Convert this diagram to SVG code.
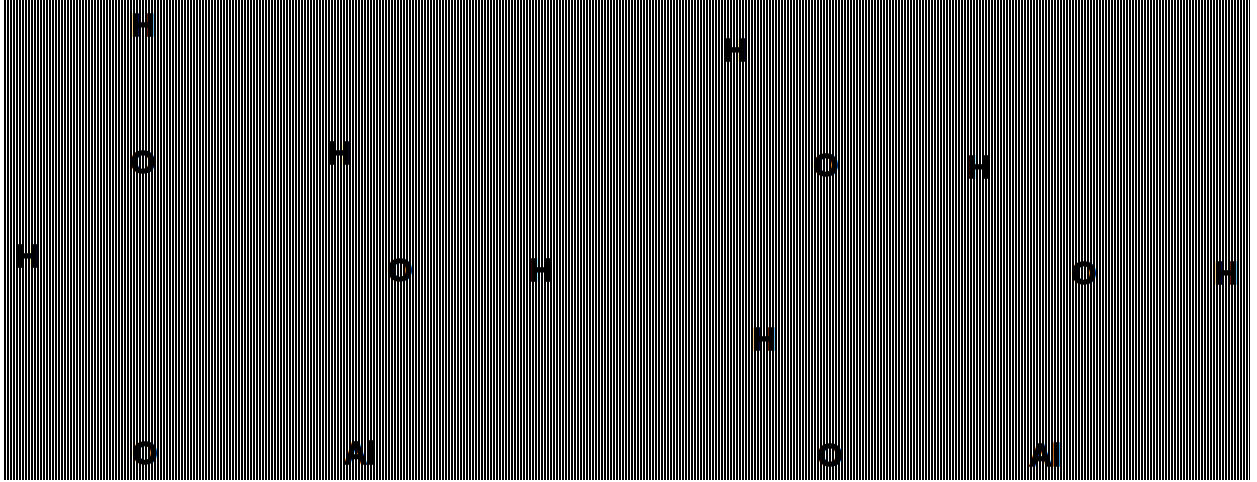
<svg xmlns="http://www.w3.org/2000/svg" width="1257" height="482" viewBox="0 0 1257 482">
<style>
.a{font-family:"Liberation Sans",Arial,sans-serif;font-weight:bold;font-size:32px;fill:#000;stroke:#000;stroke-width:1.5;text-anchor:middle;dominant-baseline:central}
</style>
<defs>
<pattern id="st" patternUnits="userSpaceOnUse" x="4" y="0" width="3" height="482">
<rect x="0" y="0" width="2" height="482" fill="#000"/>
</pattern>
</defs>
<rect width="1257" height="482" fill="#fff"/>
<rect x="4" y="0" width="1246" height="480" fill="url(#st)"/>
<g id="atoms">
<g id="h1"><text class="a" x="143" y="25">H</text></g>
<g id="h2"><text class="a" x="735" y="50">H</text></g>
<g id="o1"><text class="a" x="143" y="162">O</text></g>
<g id="h3"><text class="a" x="339" y="153">H</text></g>
<g id="o2"><text class="a" x="826" y="165">O</text></g>
<g id="h4"><text class="a" x="979" y="167">H</text></g>
<g id="h5"><text class="a" x="27" y="256">H</text></g>
<g id="o3"><text class="a" x="400" y="270">O</text></g>
<g id="h6"><text class="a" x="541" y="270">H</text></g>
<g id="o4"><text class="a" x="1084" y="273">O</text></g>
<g id="h7"><text class="a" x="1226" y="273">H</text></g>
<g id="h8"><text class="a" x="764" y="339">H</text></g>
<g id="o5"><text class="a" x="145" y="453">O</text></g>
<g id="al1"><text class="a" x="360" y="453">Al</text></g>
<g id="o6"><text class="a" x="830" y="455">O</text></g>
<g id="al2"><text class="a" x="1045" y="455">Al</text></g>
</g>
<g id="connectors"/>
</svg>
